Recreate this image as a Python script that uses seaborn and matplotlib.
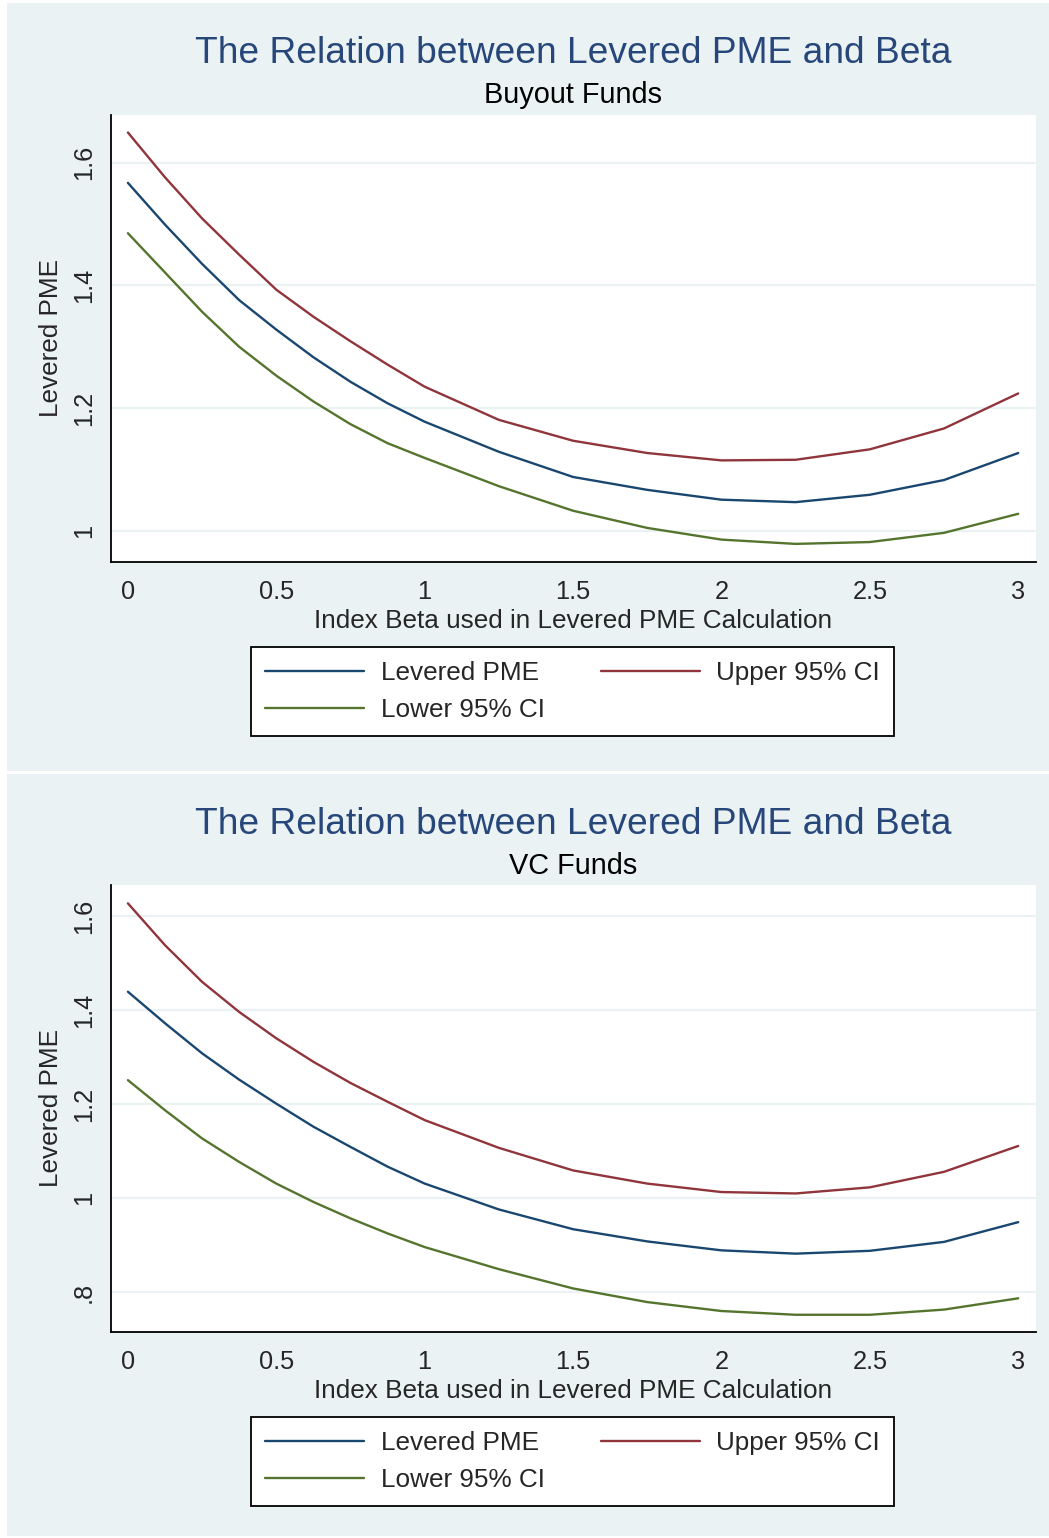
import numpy as np
import pandas as pd
import seaborn as sns
import matplotlib.pyplot as plt
from matplotlib.patches import Rectangle
from matplotlib.ticker import MultipleLocator, FixedLocator

# index beta grid (finer where the curves bend most)
beta = [0, 0.125, 0.25, 0.375, 0.5, 0.625, 0.75, 0.875, 1.0,
        1.25, 1.5, 1.75, 2.0, 2.25, 2.5, 2.75, 3.0]

# Buyout funds
bo_pme = [1.567, 1.499, 1.435, 1.376, 1.328, 1.283, 1.243, 1.208, 1.178,
          1.129, 1.088, 1.067, 1.051, 1.047, 1.059, 1.083, 1.127]
bo_upper = [1.649, 1.576, 1.509, 1.450, 1.393, 1.349, 1.309, 1.271, 1.235,
            1.181, 1.147, 1.127, 1.115, 1.116, 1.133, 1.167, 1.224]
bo_lower = [1.485, 1.421, 1.357, 1.300, 1.253, 1.211, 1.174, 1.143, 1.119,
            1.073, 1.033, 1.005, 0.986, 0.979, 0.982, 0.997, 1.028]

# VC funds
vc_pme = [1.439, 1.372, 1.308, 1.252, 1.201, 1.152, 1.109, 1.067, 1.031,
          0.976, 0.934, 0.908, 0.889, 0.882, 0.888, 0.907, 0.949]
vc_upper = [1.627, 1.538, 1.460, 1.396, 1.340, 1.290, 1.245, 1.205, 1.166,
            1.107, 1.059, 1.031, 1.013, 1.010, 1.023, 1.056, 1.111]
vc_lower = [1.251, 1.187, 1.127, 1.077, 1.031, 0.992, 0.957, 0.925, 0.896,
            0.849, 0.808, 0.779, 0.760, 0.752, 0.752, 0.763, 0.787]

series_names = ["Levered PME", "Upper 95% CI", "Lower 95% CI"]
colors = {"Levered PME": "#1a476f", "Upper 95% CI": "#90353b", "Lower 95% CI": "#55752f"}
bg = "#eaf2f3"

sns.set_style("white")
plt.rcParams["font.family"] = ["Liberation Sans", "DejaVu Sans"]

W, H = 1049, 1538
fig = plt.figure(figsize=(W / 100, H / 100), dpi=100)
fig.patch.set_facecolor("white")


def px_box(x0, y0, x1, y1):
    # pixel box (top-left origin) -> figure fraction rect
    return [x0 / W, 1 - y1 / H, (x1 - x0) / W, (y1 - y0) / H]


def make_df(pme, upper, lower):
    parts = []
    for name, vals in zip(series_names, [pme, upper, lower]):
        parts.append(pd.DataFrame({"beta": beta, "value": vals, "series": name}))
    return pd.concat(parts, ignore_index=True)


panels = [
    dict(top=3, bottom=771, ax_top=114.7, ax_bot=561.7, sub="Buyout Funds",
         data=make_df(bo_pme, bo_upper, bo_lower), ylim=(0.95, 1.678),
         yticks=[1.0, 1.2, 1.4, 1.6], ylabels=["1", "1.2", "1.4", "1.6"],
         title_y=63.3, sub_y=103.3, leg_y=691.5),
    dict(top=774, bottom=1536, ax_top=885, ax_bot=1331.7, sub="VC Funds",
         data=make_df(vc_pme, vc_upper, vc_lower), ylim=(0.716, 1.666),
         yticks=[0.8, 1.0, 1.2, 1.4, 1.6], ylabels=[".8", "1", "1.2", "1.4", "1.6"],
         title_y=833.5, sub_y=874, leg_y=1461.5),
]

for p in panels:
    fig.patches.append(Rectangle((7 / W, 1 - p["bottom"] / H), 1 - 7 / W,
                                 (p["bottom"] - p["top"]) / H,
                                 transform=fig.transFigure, facecolor=bg,
                                 edgecolor="none", zorder=-10))

    ax = fig.add_axes(px_box(111, p["ax_top"], 1036, p["ax_bot"]))
    ax.set_facecolor("white")
    sns.lineplot(data=p["data"], x="beta", y="value", hue="series",
                 palette=colors, linewidth=1.7, ax=ax, legend=False)

    ax.set_xlim(-0.057, 3.06)
    ax.set_ylim(*p["ylim"])
    ax.xaxis.set_major_locator(FixedLocator([0, 0.5, 1, 1.5, 2, 2.5, 3]))
    ax.set_xticklabels(["0", "0.5", "1", "1.5", "2", "2.5", "3"])
    ax.xaxis.set_minor_locator(MultipleLocator(0.1))
    ax.yaxis.set_major_locator(FixedLocator(p["yticks"]))
    ax.set_yticklabels(p["ylabels"], rotation=90, va="center")
    ax.yaxis.set_minor_locator(MultipleLocator(0.05))

    ax.grid(axis="y", which="major", color=bg, linewidth=1.6)
    ax.grid(axis="x", visible=False)
    for s in ["top", "right"]:
        ax.spines[s].set_visible(False)
    for s in ["left", "bottom"]:
        ax.spines[s].set_color("black")
        ax.spines[s].set_linewidth(1.3)

    ax.tick_params(axis="both", which="major", direction="out", length=6,
                   width=1.1, color="black", labelsize=18.3, pad=7)
    ax.tick_params(axis="y", which="major", pad=5)
    ax.tick_params(axis="both", which="minor", direction="out", length=4,
                   width=1.0, color="black")
    ax.tick_params(axis="x", which="minor", length=5)

    ax.set_xlabel("Index Beta used in Levered PME Calculation", fontsize=18.8, labelpad=4)
    ax.set_ylabel("Levered PME", fontsize=18.8, labelpad=6)

    fig.text(573 / W, 1 - p["title_y"] / H, "The Relation between Levered PME and Beta",
             ha="center", va="baseline", fontsize=26.7, color="#27467a")
    fig.text(573 / W, 1 - p["sub_y"] / H, p["sub"], ha="center", va="baseline",
             fontsize=20.8, color="black")

    handles = [plt.Line2D([], [], color=colors[n], linewidth=1.7) for n in series_names]
    order = [0, 2, 1]
    leg = ax.legend([handles[i] for i in order], [series_names[i] for i in order],
                    ncol=2, loc="center", bbox_to_anchor=(572.5 / W, 1 - p["leg_y"] / H),
                    bbox_transform=fig.transFigure, fontsize=18.8, frameon=True,
                    fancybox=False, framealpha=1, handlelength=3.8, handletextpad=0.62,
                    columnspacing=2.15, labelspacing=0.5, borderpad=0.55)
    leg.get_frame().set_facecolor("white")
    leg.get_frame().set_edgecolor("black")
    leg.get_frame().set_linewidth(1.3)

fig.savefig("out.png", dpi=100, facecolor="white")
